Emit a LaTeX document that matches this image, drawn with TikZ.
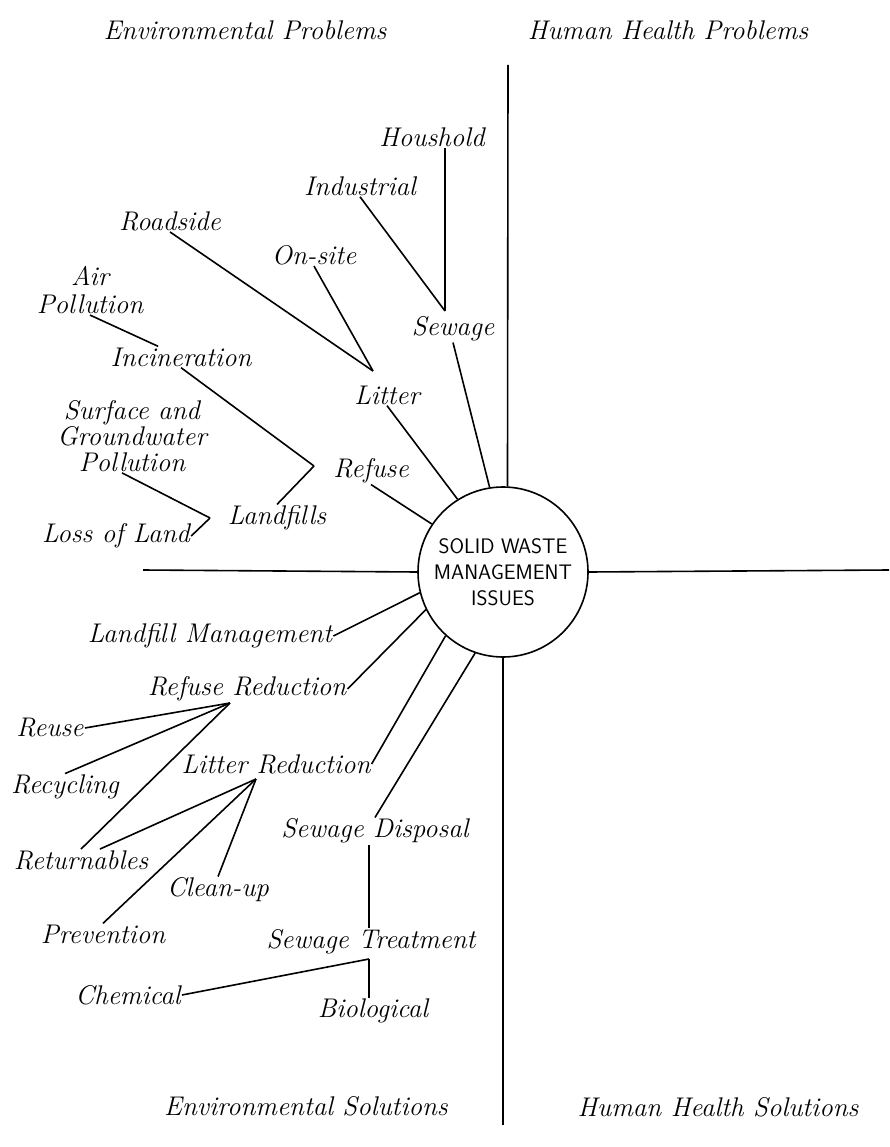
\documentclass[tikz,border=0pt]{standalone}
\usepackage{tikz}
\usetikzlibrary{positioning}

\begin{document}
\begin{tikzpicture}[x=1pt,y=-1pt,line width=1.6pt,
 lbl/.style={font=\fontsize{27}{26}\selectfont\itshape,inner sep=0.5pt,align=center},
 hub/.style={circle,draw,minimum size=170pt,inner sep=0pt,align=center,
  font=\sffamily\fontsize{21}{26}\selectfont}]
 \useasboundingbox (0,0) rectangle (889,1147);
 % quadrant titles
 \node[lbl] (envprob) at (245,30) {Environmental Problems};
 \node[lbl] (hhprob) at (668,30) {Human Health Problems};
 \node[lbl] (envsol) at (306,1106) {Environmental Solutions};
 \node[lbl] (hhsol) at (718,1107) {Human Health Solutions};
 % centre
 \node[hub] (swm) at (503,572) {SOLID WASTE\\MANAGEMENT\\ISSUES};
 \coordinate (vtop) at (508,65);
 \coordinate (vbot) at (503,1125);
 \coordinate (hleft) at (143,570);
 \coordinate (hright) at (889,570);
 % problems
 \node[lbl] (house) at (432,137) {Houshold};
 \node[lbl] (indus) at (360,186) {Industrial};
 \node[lbl] (sewage) at (453,329) {Sewage};
 \node[lbl] (road) at (170,221) {Roadside};
 \node[lbl] (onsite) at (314,255) {On-site};
 \node[lbl] (litter) at (387,395) {Litter};
 \node[lbl,font=\fontsize{27}{28}\selectfont\itshape] (airpol) at (90,290) {Air\\Pollution};
 \node[lbl] (incin) at (181,357) {Incineration};
 \node[lbl] (refuse) at (371,471) {Refuse};
 \node[lbl] (landf) at (277,518) {Landfills};
 \node[lbl] (surf) at (132,436) {Surface and\\Groundwater\\Pollution};
 \node[lbl] (loss) at (116,536) {Loss of Land};
 \coordinate (sewapex) at (445,311);
 \coordinate (litapex) at (373,371);
 \coordinate (refapex) at (314,466);
 \coordinate (landapex) at (210,518);
 % solutions
 \node[lbl] (lfm) at (210,636) {Landfill Management};
 \node[lbl] (refred) at (247,689) {Refuse Reduction};
 \node[lbl] (reuse) at (50,728) {Reuse};
 \node[lbl] (recyc) at (65,787) {Recycling};
 \node[lbl] (retur) at (81,860) {Returnables};
 \node[lbl] (litred) at (276,764) {Litter Reduction};
 \node[lbl] (prev) at (103,934) {Prevention};
 \node[lbl] (clean) at (218,890) {Clean-up};
 \node[lbl] (sewdisp) at (375,831) {Sewage Disposal};
 \node[lbl] (sewtreat) at (371,942) {Sewage Treatment};
 \node[lbl] (chem) at (128,995) {Chemical};
 \node[lbl] (bio) at (373,1011) {Biological};
 \coordinate (rrapex) at (230,703);
 \coordinate (lrapex) at (256,779);
 \coordinate (stapex) at (369,959);

 \path
 (vtop) edge (swm.87)
 (swm.south) edge (vbot)
 (hleft) edge (swm.west)
 (swm.east) edge (hright)
 (house.south -| sewapex) edge (sewapex)
 (indus.south) edge (sewapex)
 (sewage.south) edge (swm.99)
 (road.south) edge (litapex)
 (onsite.south) edge (litapex)
 (litter.south) edge (swm.122)
 (airpol.south) edge (incin.155)
 (incin.south) edge (refapex)
 (landf.north) edge (refapex)
 (refuse.south) edge (swm.146)
 (surf.255) edge (landapex)
 (loss.east) edge (landapex)
 (lfm.east) edge (swm.194)
 (refred.east) edge (swm.206)
 (reuse.east) edge (rrapex)
 (recyc.north) edge (rrapex)
 (retur.north) edge (rrapex)
 (litred.east) edge (swm.228)
 (retur.30) edge (lrapex)
 (prev.north) edge (lrapex)
 (clean.north) edge (lrapex)
 (sewdisp.north) edge (swm.251)
 (sewdisp.south -| stapex) edge (stapex |- sewtreat.north)
 (chem.east) edge (stapex)
 (stapex) edge (stapex |- bio.north);
\end{tikzpicture}
\end{document}
